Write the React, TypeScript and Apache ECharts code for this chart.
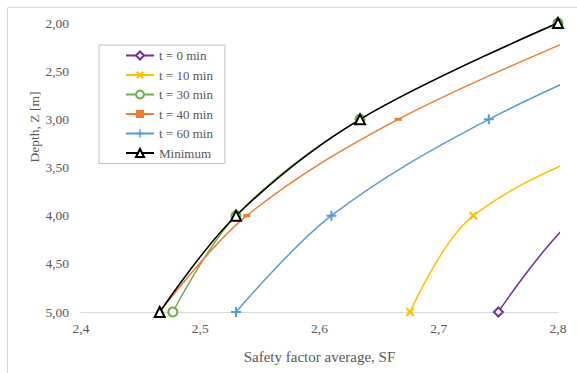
import React, { useEffect, useRef } from "react";
import * as echarts from "echarts";

const depths = [5, 4, 3, 2];
const sfT0 = [2.75, 2.816, 2.94, 3.09];
const sfT10 = [2.676, 2.729, 2.885, 3.02];
const sfT30 = [2.477, 2.53, 2.634, 2.8];
const sfT40 = [2.466, 2.539, 2.666, 2.845];
const sfT60 = [2.53, 2.61, 2.742, 2.92];
const sfMin = [2.466, 2.53, 2.634, 2.8];
const seriesNames = ["t = 0 min", "t = 10 min", "t = 30 min", "t = 40 min", "t = 60 min", "Minimum"];
const xTitle = "Safety factor average, SF";
const yTitle = "Depth, Z [m]";

const FONT = "Liberation Serif";
const TXT = "#595959";

const plusPath = "path://M4,0H6V4H10V6H6V10H4V6H0V4H4Z";
const xPath = "path://M0,1.8L1.8,0L5,3.2L8.2,0L10,1.8L6.8,5L10,8.2L8.2,10L5,6.8L1.8,10L0,8.2L3.2,5Z";

const pairs = (xs: number[]) => xs.map((x, i) => [x, depths[i]]);
const fmt = (v: number, d: number) => v.toFixed(d).replace(".", ",");

export default function App() {
  const ref = useRef<HTMLDivElement>(null);
  useEffect(() => {
    const chart = echarts.init(ref.current!, null, { renderer: "svg" });
    const mk = (name: string, data: number[], color: string, symbol: string, size: any, hollow: boolean, z: number) => ({
      name,
      type: "line",
      data: pairs(data),
      smooth: 0.35,
      clip: true,
      symbol,
      symbolSize: size,
      showSymbol: true,
      z,
      lineStyle: { color, width: 1.5 },
      itemStyle: hollow
        ? { color: "#ffffff", borderColor: color, borderWidth: 2 }
        : { color, borderWidth: 0 },
    });
    chart.setOption({
      animation: false,
      textStyle: { fontFamily: FONT, fontSize: 13, color: TXT },
      graphic: [
        {
          type: "rect",
          shape: { x: 7.5, y: 7.5, width: 600, height: 400 },
          style: { fill: "none", stroke: "#d9d9d9", lineWidth: 1 },
          silent: true,
        },
        {
          type: "text",
          x: 34,
          y: 127,
          rotation: Math.PI / 2,
          style: {
            text: yTitle,
            fill: TXT,
            font: `13.5px "${FONT}"`,
            align: "center",
            verticalAlign: "middle",
          },
          silent: true,
        },
      ],
      grid: { left: 81, right: 19, top: 23, bottom: 61 },
      legend: {
        orient: "vertical",
        left: 99,
        top: 45,
        width: 138,
        padding: [4, 12, 4, 26],
        borderColor: "#bfbfbf",
        borderWidth: 1,
        itemWidth: 28,
        itemHeight: 10,
        itemGap: 6.5,
        data: seriesNames,
        textStyle: { fontFamily: FONT, fontSize: 13, color: TXT },
      },
      xAxis: {
        type: "value",
        min: 2.4,
        max: 2.8,
        interval: 0.1,
        name: xTitle,
        nameLocation: "middle",
        nameGap: 37,
        nameTextStyle: { fontFamily: FONT, fontSize: 15, color: TXT },
        axisLine: { show: true, lineStyle: { color: "#d9d9d9", width: 1 } },
        axisTick: { show: false },
        splitLine: { show: false },
        axisLabel: { formatter: (v: number) => fmt(v, 1), fontFamily: FONT, fontSize: 13.5, color: TXT, margin: 9 },
      },
      yAxis: {
        type: "value",
        inverse: true,
        min: 2,
        max: 5,
        interval: 0.5,
        axisLine: { show: false },
        axisTick: { show: false },
        splitLine: { show: false },
        axisLabel: { formatter: (v: number) => fmt(v, 2), fontFamily: FONT, fontSize: 13.5, color: TXT, margin: 12 },
      },
      series: [
        mk(seriesNames[0], sfT0, "#7030A0", "diamond", 9, true, 2),
        mk(seriesNames[1], sfT10, "#FFC000", xPath, 9, false, 3),
        mk(seriesNames[2], sfT30, "#70AD47", "circle", 9, true, 4),
        mk(seriesNames[3], sfT40, "#ED7D31", "rect", [7, 3], false, 5),
        mk(seriesNames[4], sfT60, "#5B9BD5", plusPath, 10, false, 6),
        mk(seriesNames[5], sfMin, "#000000", "triangle", 10, true, 7),
      ],
    });
    return () => chart.dispose();
  }, []);
  return <div ref={ref} style={{ position: "fixed", left: 0, top: 0, width: 577, height: 373, background: "#fff" }} />;
}
